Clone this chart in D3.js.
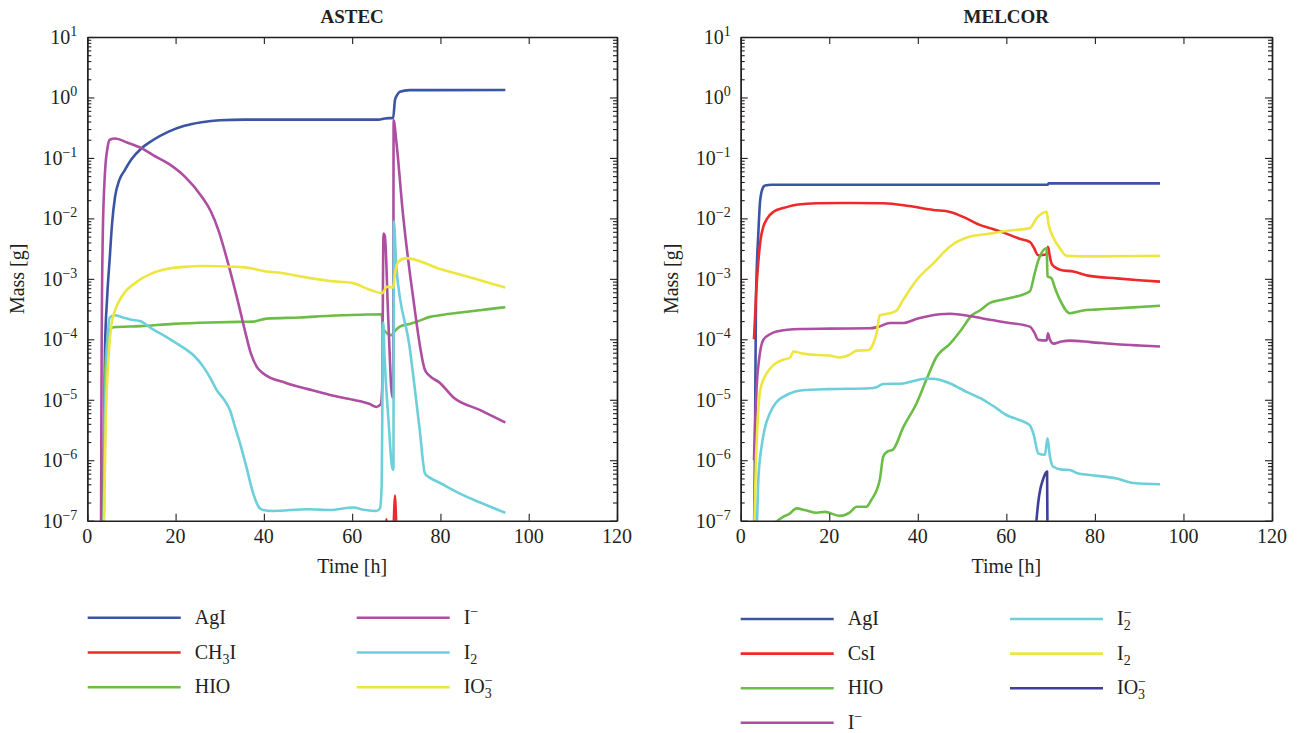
<!DOCTYPE html>
<html><head><meta charset="utf-8">
<script src="https://cdn.jsdelivr.net/npm/d3@7"></script>
<style>
body{margin:0;background:#fff}
svg{display:block}
text{font-family:"Liberation Serif","Times New Roman",serif;fill:#231f20}
</style>
</head><body>
<svg id="c" width="1301" height="733"></svg>
<script>
// ---------- DATA ----------
const xTicks = [0, 20, 40, 60, 80, 100, 120];
const yExponents = [-7, -6, -5, -4, -3, -2, -1, 0, 1];

const astecNames = ["AgI", "CH_3I", "HIO", "I^−", "I_2", "IO_3^−"];
const melcorNames = ["AgI", "CsI", "HIO", "I^−", "I_2^−", "I_2", "IO_3^−"];

// ASTEC series: [time h, mass g]
const astecAgI = [[3.5,5e-8],[3.8,3e-6],[4.0,6.6e-5],[4.5,5e-4],[5.1,2.3e-3],[5.6,8e-3],[6.3,2.3e-2],[7.2,4.2e-2],[8.5,6.3e-2],[10,9.5e-2],[12.3,0.145],[15,0.2],[18.3,0.27],[22,0.34],[25.9,0.39],[30,0.42],[35.7,0.43],[66,0.43],[67.4,0.45],[69.3,0.46],[69.7,0.91],[70.2,1.1],[70.8,1.24],[73,1.32],[94.7,1.33]];
const astecCH3I = [[67.4,5e-8],[67.8,1.05e-7],[68.2,5e-8],[69.3,5e-8],[69.5,1.3e-7],[69.7,2.6e-7],[69.9,1.3e-7],[70.1,5e-8]];
const astecHIO = [[3.5,5e-8],[3.9,1e-5],[4.4,8e-5],[5.0,1.4e-4],[5.9,1.58e-4],[12,1.65e-4],[19.5,1.8e-4],[28,1.9e-4],[35.7,1.95e-4],[37.6,1.96e-4],[40.6,2.2e-4],[48.2,2.3e-4],[55,2.45e-4],[62,2.55e-4],[66.7,2.6e-4],[67.0,1.5e-4],[68.9,1.17e-4],[69.4,1.3e-4],[70.8,1.62e-4],[73,1.8e-4],[74.6,1.95e-4],[77.6,2.35e-4],[79.9,2.5e-4],[85,2.8e-4],[90,3.1e-4],[94.7,3.4e-4]];
const astecIminus = [[3.1,5e-8],[3.25,6.6e-5],[3.5,5e-3],[4.0,5.6e-2],[4.6,0.15],[5.1,0.2],[6.3,0.21],[9,0.18],[12.3,0.145],[15,0.11],[18.3,0.081],[22.1,0.049],[25.9,0.023],[28,0.013],[29.7,6.4e-3],[31.9,1.8e-3],[34.2,4e-4],[35.7,1.4e-4],[37,6e-5],[38.4,3.5e-5],[39.8,2.75e-5],[45,1.9e-5],[50,1.5e-5],[55,1.2e-5],[60.2,1e-5],[64,8.5e-6],[65.5,7.6e-6],[66.5,8.5e-6],[66.8,1.5e-5],[67.1,5.6e-3],[67.4,5.2e-3],[68.2,2e-4],[69.1,1.1e-5],[69.3,1.1e-5],[69.4,0.42],[70,0.19],[71.5,1.2e-2],[73.8,5e-4],[76.5,3.1e-5],[77.5,2.5e-5],[79.9,1.9e-5],[82.9,1.1e-5],[88.9,6.8e-6],[94.7,4.2e-6]];
const astecI2 = [[3.7,5e-8],[4.1,1e-5],[4.6,1e-4],[5.1,2.3e-4],[6.3,2.5e-4],[8,2.3e-4],[10,2.1e-4],[11.9,2e-4],[14.6,1.5e-4],[18.3,1.05e-4],[22.1,7e-5],[24,5.5e-5],[26.3,3.5e-5],[28,2.2e-5],[29.3,1.45e-5],[31,1e-5],[32.3,6.8e-6],[33.5,3.5e-6],[34.6,1.9e-6],[36,8e-7],[37.6,2.8e-7],[38.8,1.7e-7],[39.8,1.5e-7],[42,1.45e-7],[50,1.55e-7],[55,1.5e-7],[60.2,1.65e-7],[63,1.5e-7],[65.5,1.45e-7],[66.3,1.6e-7],[66.7,4e-7],[66.9,3e-5],[67.05,1.9e-4],[67.3,6e-5],[68.2,5e-6],[69.2,7e-7],[69.35,7e-7],[69.45,8.9e-3],[70,1.6e-3],[73,7.6e-5],[75.3,3.2e-6],[76.5,6e-7],[77.5,5.2e-7],[79.9,4.2e-7],[84.4,2.8e-7],[89,2e-7],[94.7,1.35e-7]];
const astecIO3 = [[3.7,5e-8],[4.2,5e-6],[4.8,5e-5],[5.5,1.8e-4],[6.0,2.6e-4],[7.0,4e-4],[8.5,6e-4],[10.8,8.5e-4],[14.6,1.23e-3],[18,1.45e-3],[22,1.58e-3],[26,1.63e-3],[29.7,1.62e-3],[35.7,1.55e-3],[40.6,1.32e-3],[44,1.25e-3],[48.2,1.1e-3],[55,9.2e-4],[60.2,8.5e-4],[64,6.6e-4],[66.8,5.8e-4],[67.9,7.4e-4],[69.3,7.2e-4],[69.7,1.2e-3],[70.4,1.9e-3],[72.3,2.2e-3],[75,2e-3],[79.9,1.45e-3],[85,1.15e-3],[94.7,7.2e-4]];

// MELCOR series
const melcorAgI = [[3.0,5e-8],[3.2,1e-6],[3.45,4.5e-4],[4.0,6e-3],[4.4,0.02],[5.0,0.032],[5.5,0.035],[7,0.036],[69.3,0.036],[69.6,0.038],[94.7,0.038]];
const melcorCsI = [[3.0,1e-4],[3.5,6e-4],[4.0,2e-3],[4.5,4.5e-3],[5.1,7.2e-3],[6,1e-2],[7.5,1.3e-2],[9.6,1.48e-2],[13,1.7e-2],[17.2,1.78e-2],[25,1.8e-2],[32.2,1.78e-2],[38,1.6e-2],[43.5,1.38e-2],[47.3,1.28e-2],[51,1e-2],[54,7.8e-3],[56.3,6.9e-3],[60,5.6e-3],[63,4.6e-3],[65.3,4.1e-3],[66.2,3.3e-3],[67.2,2.45e-3],[68.5,2.5e-3],[69.1,2.55e-3],[69.4,3.4e-3],[69.8,2.4e-3],[70.2,1.8e-3],[71,1.55e-3],[72.1,1.42e-3],[75.1,1.32e-3],[78.8,1.12e-3],[84.9,1.02e-3],[90,9.5e-4],[94.7,9e-4]];
const melcorHIO = [[7.5,9e-8],[9.5,1.15e-7],[11,1.3e-7],[12.6,1.6e-7],[14.5,1.5e-7],[17.2,1.35e-7],[19,1.4e-7],[22.4,1.2e-7],[24.5,1.35e-7],[26.2,1.7e-7],[28.4,1.7e-7],[29.5,2.2e-7],[31.4,4.7e-7],[32.2,1.15e-6],[33.2,1.4e-6],[34.4,1.5e-6],[36.7,3.5e-6],[39.7,8.7e-6],[42,2.2e-5],[44.2,5.1e-5],[47.3,8.5e-5],[50,1.5e-4],[52.2,2.5e-4],[54,3e-4],[56.3,4e-4],[60.8,4.8e-4],[65.3,6.2e-4],[66.4,1.23e-3],[67.2,2e-3],[69.1,3.2e-3],[69.3,1.1e-3],[70.2,1.02e-3],[71,7e-4],[72.1,4.5e-4],[74.3,2.7e-4],[77.3,3e-4],[80,3.1e-4],[84.9,3.25e-4],[94.7,3.6e-4]];
const melcorIminus = [[3.0,1e-6],[3.3,5e-6],[3.6,1.65e-5],[4.2,5e-5],[5.1,9.8e-5],[6.5,1.2e-4],[8.1,1.35e-4],[13.4,1.48e-4],[20,1.5e-4],[29.2,1.52e-4],[31,1.6e-4],[33.7,1.86e-4],[36.7,1.86e-4],[40,2.2e-4],[45,2.6e-4],[47.3,2.65e-4],[52,2.4e-4],[56.3,2.1e-4],[60,1.9e-4],[65.3,1.62e-4],[66.3,1.3e-4],[67.2,9.8e-5],[69.1,9.6e-5],[69.4,1.26e-4],[69.8,1e-4],[70.6,8.5e-5],[72.5,9.2e-5],[74.3,9.5e-5],[79,9e-5],[84.9,8.3e-5],[90,7.9e-5],[94.7,7.6e-5]];
const melcorI2minus = [[3.6,5e-8],[4.0,5e-7],[4.7,1.65e-6],[5.5,3.5e-6],[6.6,6e-6],[8,9e-6],[9.6,1.12e-5],[12,1.35e-5],[14.9,1.45e-5],[20,1.5e-5],[29.2,1.55e-5],[30.5,1.6e-5],[32.2,1.82e-5],[36.7,1.86e-5],[39,2.05e-5],[42,2.25e-5],[44,2.2e-5],[47.3,1.86e-5],[51,1.35e-5],[54.8,1e-5],[57.5,7.5e-6],[60,5.6e-6],[63,4.6e-6],[65.3,3.8e-6],[66.2,2.6e-6],[67.2,1.3e-6],[68.7,1.23e-6],[69.3,2.3e-6],[69.8,1.2e-6],[70.6,7.8e-7],[72.5,7e-7],[74.3,6.9e-7],[76,6.1e-7],[78.8,5.7e-7],[84.9,5e-7],[88.7,4.2e-7],[94.7,4e-7]];
const melcorI2 = [[3.0,5e-8],[3.4,8e-7],[3.8,4e-6],[4.4,1.45e-5],[5.9,2.75e-5],[7.5,3.8e-5],[9.6,4.6e-5],[11.2,5e-5],[11.9,6.3e-5],[14,5.8e-5],[17.2,5.5e-5],[20,5.4e-5],[22.4,5e-5],[24.5,5.5e-5],[26.2,6.5e-5],[28.8,6.6e-5],[29.8,8e-5],[30.7,1.26e-4],[31.4,2.5e-4],[32.5,2.6e-4],[33.7,2.7e-4],[35.2,3e-4],[36.7,4.5e-4],[39.7,9.5e-4],[43.5,1.8e-3],[47.2,3.4e-3],[51.8,5e-3],[56.3,5.6e-3],[60,6.2e-3],[65.3,6.9e-3],[66.8,1e-2],[69.1,1.29e-2],[69.5,8.3e-3],[70.5,5e-3],[72.1,3.2e-3],[73.6,2.4e-3],[80,2.35e-3],[94.7,2.4e-3]];
const melcorIO3 = [[66.5,5e-8],[66.8,1e-7],[67.2,2e-7],[67.7,3.4e-7],[68.2,4.6e-7],[68.7,5.8e-7],[69.2,6.5e-7],[69.3,5e-8]];

const astecSeries = [astecAgI, astecCH3I, astecHIO, astecIminus, astecI2, astecIO3];
const melcorSeries = [melcorAgI, melcorCsI, melcorHIO, melcorIminus, melcorI2minus, melcorI2, melcorIO3];
const astecColors = ["#3b54a4", "#ec2a2a", "#6bbd45", "#ad4ea2", "#6dcfd9", "#eee640"];
const melcorColors = ["#3b54a4", "#ec2a2a", "#6bbd45", "#ad4ea2", "#6dcfd9", "#eee640", "#3f3f99"];

// ---------- DRAWING ----------
const svg = d3.select("#c");
const AX = "#231f20";

function richText(sel, s, subSize) {
  let off = 0, i = 0, prevSub = false, lastW = 0;
  while (i < s.length) {
    const c = s[i];
    if (c === "_") {
      sel.append("tspan").attr("dy", 5 - off).style("font-size", subSize + "px").text(s[i + 1]);
      off = 5; prevSub = true; lastW = subSize * 0.5; i += 2; continue;
    }
    if (c === "^") {
      const t = sel.append("tspan").attr("dy", -8 - off).style("font-size", subSize + "px").text(s[i + 1]);
      if (prevSub) t.attr("dx", -lastW);
      off = -8; prevSub = false; i += 2; continue;
    }
    let j = i;
    while (j < s.length && s[j] !== "_" && s[j] !== "^") j++;
    sel.append("tspan").attr("dy", -off).text(s.slice(i, j));
    off = 0; prevSub = false; i = j;
  }
}

function panel(cfg) {
  const x = d3.scaleLinear().domain([0, 120]).range([cfg.x0, cfg.x1]);
  const y = d3.scaleLog().domain([1e-7, 1e1]).range([cfg.y1, cfg.y0]);
  const id = "clip" + cfg.key;
  svg.append("clipPath").attr("id", id).append("rect")
    .attr("x", cfg.x0).attr("y", cfg.y0).attr("width", cfg.x1 - cfg.x0).attr("height", cfg.y1 - cfg.y0);
  const line = d3.line().curve(d3.curveMonotoneX).x(d => x(d[0])).y(d => y(Math.max(d[1], 1e-9)));
  const g = svg.append("g").attr("clip-path", `url(#${id})`);
  cfg.series.forEach((s, k) => {
    g.append("path").attr("d", line(s)).attr("fill", "none")
      .attr("stroke", cfg.colors[k]).attr("stroke-width", 2.6)
      .attr("stroke-linejoin", "round").attr("stroke-linecap", "butt");
  });

  const majors = yExponents.map(e => Math.pow(10, e));
  const minors = [];
  yExponents.slice(0, -1).forEach(e => { for (let k = 2; k <= 9; k++) minors.push(k * Math.pow(10, e)); });

  const style = a => { a.selectAll("path.domain").attr("stroke", AX).attr("stroke-width", 1.4); a.selectAll("line").attr("stroke", AX).attr("stroke-width", 1.1); };
  const add = (axis, tx, ty) => svg.append("g").attr("transform", `translate(${tx},${ty})`).call(axis).call(style);

  add(d3.axisBottom(x).tickValues(xTicks).tickSize(-7).tickSizeOuter(0).tickFormat(""), 0, cfg.y1);
  add(d3.axisTop(x).tickValues(xTicks).tickSize(-7).tickSizeOuter(0).tickFormat(""), 0, cfg.y0);
  add(d3.axisLeft(y).tickValues(majors).tickSize(-7).tickSizeOuter(0).tickFormat(""), cfg.x0, 0);
  add(d3.axisLeft(y).tickValues(minors).tickSize(-4).tickSizeOuter(0).tickFormat(""), cfg.x0, 0);
  add(d3.axisRight(y).tickValues(majors).tickSize(-7).tickSizeOuter(0).tickFormat(""), cfg.x1, 0);
  add(d3.axisRight(y).tickValues(minors).tickSize(-4).tickSizeOuter(0).tickFormat(""), cfg.x1, 0);
  svg.selectAll(".tick text").remove();

  xTicks.forEach(v => {
    svg.append("text").attr("x", x(v)).attr("y", cfg.y1 + 22).attr("text-anchor", "middle")
      .style("font-size", "20px").text(v);
  });
  yExponents.forEach(e => {
    const t = svg.append("text").attr("x", cfg.x0 - 10).attr("y", y(Math.pow(10, e)) + 7)
      .attr("text-anchor", "end").style("font-size", "20px");
    t.append("tspan").text("10");
    t.append("tspan").attr("dy", -8).style("font-size", "14px").text(e < 0 ? "−" + (-e) : String(e));
  });
  svg.append("text").attr("x", (cfg.x0 + cfg.x1) / 2).attr("y", 23).attr("text-anchor", "middle")
    .style("font-size", "19px").style("font-weight", "bold").text(cfg.title);
  svg.append("text").attr("x", (cfg.x0 + cfg.x1) / 2).attr("y", 573).attr("text-anchor", "middle")
    .style("font-size", "20px").text("Time [h]");
  svg.append("text").attr("transform", `translate(${cfg.x0 - 63},${(cfg.y0 + cfg.y1) / 2}) rotate(-90)`)
    .attr("text-anchor", "middle").style("font-size", "20px").text("Mass [g]");

  cfg.names.forEach((nm, k) => {
    const col = k < cfg.perCol ? 0 : 1;
    const row = k < cfg.perCol ? k : k - cfg.perCol;
    const lx = cfg.legX[col], ly = cfg.legY0 + row * cfg.legDy;
    svg.append("line").attr("x1", lx).attr("x2", lx + 93).attr("y1", ly).attr("y2", ly)
      .attr("stroke", cfg.colors[k]).attr("stroke-width", 2.6);
    const t = svg.append("text").attr("x", lx + 107).attr("y", ly + 6).style("font-size", "20px");
    richText(t, nm, 14);
  });
}

panel({key: "a", x0: 87.3, x1: 617, y0: 37, y1: 520.7, title: "ASTEC",
  series: astecSeries, colors: astecColors, names: astecNames,
  perCol: 3, legX: [87.7, 356.7], legY0: 617.7, legDy: 34.8});
panel({key: "m", x0: 740.7, x1: 1272, y0: 37, y1: 520.7, title: "MELCOR",
  series: melcorSeries, colors: melcorColors, names: melcorNames,
  perCol: 4, legX: [740.7, 1010], legY0: 619, legDy: 34.6});
</script>
</body></html>
